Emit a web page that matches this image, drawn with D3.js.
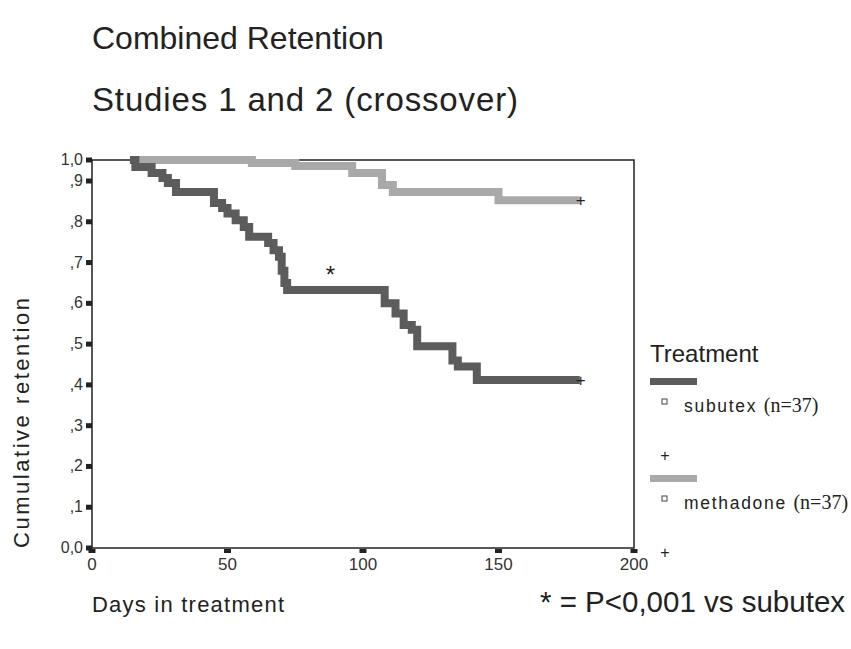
<!DOCTYPE html>
<html><head><meta charset="utf-8">
<script src="https://cdn.jsdelivr.net/npm/d3@7"></script>
<style>body{margin:0;background:#fff} svg{display:block}</style>
</head><body><svg id="c" width="851" height="649"></svg>
<script>
// ---- data ----
const titleLines = ["Combined Retention", "Studies 1 and 2 (crossover)"];
const yTickValues = [0, 0.1, 0.2, 0.3, 0.4, 0.5, 0.6, 0.7, 0.8, 0.9, 1.0];
const yTickLabels = ["0,0", ",1", ",2", ",3", ",4", ",5", ",6", ",7", ",8", ",9", "1,0"];
const xTickValues = [0, 50, 100, 150, 200];
const xTickLabels = ["0", "50", "100", "150", "200"];
const seriesNames = ["subutex (n=37)", "methadone (n=37)"];
const subutexDays   = [14, 16, 22, 26, 28, 31, 45, 48, 50, 53, 56, 58, 65, 67, 69, 70, 71, 72, 108, 112, 115, 118, 120, 133, 135, 142];
const subutexValues = [1.0, 0.967, 0.938, 0.914, 0.895, 0.873, 0.846, 0.834, 0.82, 0.804, 0.787, 0.763, 0.748, 0.73, 0.714, 0.68, 0.65, 0.633, 0.60, 0.575, 0.547, 0.535, 0.495, 0.46, 0.445, 0.412];
const methadoneDays   = [14, 59, 75, 96, 107, 111, 150];
const methadoneValues = [1.0, 0.986, 0.971, 0.938, 0.89, 0.873, 0.853];
const lastDay = 180;
const annotationText = "* = P<0,001 vs subutex";

// ---- layout ----
const svg = d3.select("#c");
const x = d3.scaleLinear().domain([0, 200]).range([92, 634]);
const y = d3.scaleLinear().domain([0, 0.9, 1]).range([548, 181, 160]);
const font = "Arial, 'Liberation Sans', sans-serif";
const colors = ["#5c5c5c", "#a9a9a9"];

svg.append("text").attr("x", 92).attr("y", 49).attr("font-family", font).attr("font-size", 32).attr("fill", "#222").text(titleLines[0]);
svg.append("text").attr("x", 92).attr("y", 111).attr("font-family", font).attr("font-size", 33).attr("fill", "#222")
  .attr("textLength", 426).attr("lengthAdjust", "spacing").text(titleLines[1]);

// frame
svg.append("rect").attr("x", x(0)).attr("y", y(1)).attr("width", x(200) - x(0)).attr("height", y(0) - y(1))
  .attr("fill", "none").attr("stroke", "#222").attr("stroke-width", 1.5);

// y ticks
const yt = svg.append("g");
yTickValues.forEach((v, i) => {
  yt.append("rect").attr("x", x(0) - 6).attr("y", y(v) - 2.5).attr("width", 6).attr("height", 5).attr("fill", "#222");
  yt.append("text").attr("x", x(0) - 9).attr("y", y(v) + 5).attr("text-anchor", "end")
    .attr("font-family", font).attr("font-size", 16).attr("fill", "#333").text(yTickLabels[i]);
});
// x ticks
const xt = svg.append("g");
xTickValues.forEach((v, i) => {
  xt.append("rect").attr("x", x(v) - 3.5).attr("y", y(0) + 1).attr("width", 7).attr("height", 4).attr("fill", "#222");
  xt.append("text").attr("x", x(v)).attr("y", y(0) + 22).attr("text-anchor", "middle")
    .attr("font-family", font).attr("font-size", 17).attr("fill", "#333").text(xTickLabels[i]);
});

// curves
const line = d3.line().x(d => x(d[0])).y(d => y(d[1])).curve(d3.curveStepAfter);
function series(days, vals) {
  const pts = days.map((d, i) => [d, vals[i]]);
  pts.push([lastDay, vals[vals.length - 1]]);
  return pts;
}
const allSeries = [series(methadoneDays, methadoneValues), series(subutexDays, subutexValues)];
const serColors = [colors[1], colors[0]];
allSeries.forEach((pts, i) => {
  svg.append("path").attr("d", line(pts)).attr("fill", "none").attr("stroke", serColors[i])
    .attr("stroke-width", 8).attr("stroke-linejoin", "miter");
  const last = pts[pts.length - 1];
  svg.append("text").attr("x", x(last[0]) + 1).attr("y", y(last[1]) + 6).attr("text-anchor", "middle")
    .attr("font-family", font).attr("font-size", 17).attr("fill", "#222").text("+");
});

// asterisk in plot
svg.append("text").attr("x", x(88)).attr("y", y(0.68) + 12).attr("text-anchor", "middle")
  .attr("font-family", font).attr("font-size", 24).attr("fill", "#222").text("*");

// axis titles
svg.append("text").attr("transform", "translate(29,548) rotate(-90)").attr("font-family", font)
  .attr("font-size", 22).attr("fill", "#222").attr("textLength", 250).text("Cumulative retention");
svg.append("text").attr("x", 92).attr("y", 612).attr("font-family", font).attr("font-size", 22)
  .attr("fill", "#222").attr("textLength", 192).text("Days in treatment");
svg.append("text").attr("x", 540).attr("y", 612).attr("font-family", font).attr("font-size", 29.5)
  .attr("fill", "#222").text(annotationText);

// legend
svg.append("text").attr("x", 650).attr("y", 362).attr("font-family", font).attr("font-size", 24).attr("fill", "#222").text("Treatment");
const legY = [378, 475];
seriesNames.forEach((name, i) => {
  const base = legY[i];
  svg.append("rect").attr("x", 650).attr("y", base).attr("width", 47).attr("height", 7).attr("fill", colors[i]);
  svg.append("rect").attr("x", 662).attr("y", base + 21).attr("width", 5).attr("height", 5).attr("fill", "none").attr("stroke", "#444").attr("stroke-width", 1);
  const t = svg.append("text").attr("x", 684).attr("y", base + 34).attr("font-family", font).attr("font-size", 17.5).attr("fill", "#222");
  const parts = name.split(" ");
  t.append("tspan").attr("letter-spacing", 1.7).text(parts[0] + " ");
  t.append("tspan").attr("font-family", "'Liberation Serif', 'Times New Roman', serif").attr("font-size", 20).text(parts[1]);
  svg.append("text").attr("x", 665).attr("y", base + 83).attr("text-anchor", "middle").attr("font-family", font)
    .attr("font-size", 16).attr("fill", "#222").text("+");
});
</script></body></html>
